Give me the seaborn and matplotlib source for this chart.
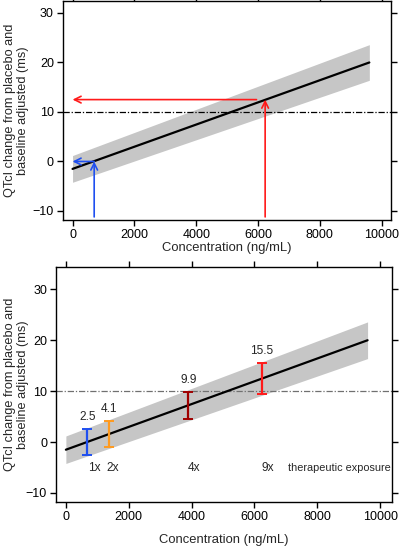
import matplotlib
matplotlib.use("Agg")
import matplotlib.pyplot as plt
import seaborn as sns
import pandas as pd

# ---- data ----
conc_line = [0, 9600]
qtc_line = [-1.5, 20.0]
ci_lower = [-4.2, 16.4]
ci_upper = [1.2, 23.6]

threshold = 10

# top panel arrows (concentration, QTc)
blue_conc, blue_qtc = 700, 0.0
red_conc, red_qtc = 6230, 12.5
red_hstart = 5950

# bottom panel error bars
eb_conc = [680, 1380, 3900, 6240]
eb_low = [-2.5, -1.0, 4.5, 9.5]
eb_high = [2.5, 4.1, 9.9, 15.5]
eb_labels = ["2.5", "4.1", "9.9", "15.5"]
eb_colors = ["#1f4ff0", "#ff9a1f", "#a00000", "#ff1a1a"]
mult_labels = ["1x", "2x", "4x", "9x"]
mult_conc = [900, 1480, 4080, 6440]
exposure_label = "therapeutic exposure"

xticks = [0, 2000, 4000, 6000, 8000, 10000]
yticks = [-10, 0, 10, 20, 30]
xlabel = "Concentration (ng/mL)"
ylabel = "QTcI change from placebo and\nbaseline adjusted (ms)"

sns.set_style("ticks")
plt.rcParams["font.family"] = ["Liberation Sans", "DejaVu Sans"]
plt.rcParams["font.size"] = 9

df = pd.DataFrame({"conc": conc_line, "qtc": qtc_line})

fig = plt.figure(figsize=(4.01, 5.47), dpi=100)
ax1 = fig.add_axes([0.157, 0.598, 0.818, 0.400])
ax2 = fig.add_axes([0.140, 0.082, 0.837, 0.430])


def base(ax, ylim, xlim, hcolor, xpad, ylab_x):
    ax.fill_between(conc_line, ci_lower, ci_upper, color="#c6c6c6", lw=0, zorder=1)
    sns.lineplot(data=df, x="conc", y="qtc", ax=ax, color="black", lw=1.6, zorder=3)
    ax.axhline(threshold, color=hcolor, lw=0.9, ls=(0, (5, 1.5, 1, 1.5)), zorder=2)
    ax.set_xlim(*xlim)
    ax.set_ylim(*ylim)
    ax.set_xticks(xticks)
    ax.set_yticks(yticks)
    ax.set_xlabel(xlabel, fontsize=9.4, labelpad=xpad)
    ax.set_ylabel(ylabel, fontsize=9.2, linespacing=1.05)
    ax.yaxis.set_label_coords(ylab_x, 0.5)
    for s in ax.spines.values():
        s.set_visible(True)
        s.set_linewidth(1.0)
        s.set_color("black")
    ax.tick_params(direction="out", length=4, width=1, top=True, right=True,
                   labeltop=False, labelright=False, labelsize=9, colors="black",
                   pad=2.5)


base(ax1, (-11.8, 32.4), (-310, 10300), "black", 1.0, -0.105)
base(ax2, (-11.8, 34.4), (-310, 10370), "#707070", 8.0, -0.082)

# top panel arrows
arr = dict(arrowstyle="->", lw=1.2, mutation_scale=12, shrinkA=0, shrinkB=0)
ax1.annotate("", xy=(blue_conc, blue_qtc), xytext=(blue_conc, -11.2),
             arrowprops=dict(arr, color="#1f4ff0"), zorder=4)
ax1.annotate("", xy=(0, blue_qtc), xytext=(blue_conc, blue_qtc),
             arrowprops=dict(arr, color="#1f4ff0"), zorder=4)
ax1.annotate("", xy=(red_conc, red_qtc), xytext=(red_conc, -11.2),
             arrowprops=dict(arr, color="#ff1a1a"), zorder=4)
ax1.annotate("", xy=(0, red_qtc), xytext=(red_hstart, red_qtc),
             arrowprops=dict(arr, color="#ff1a1a"), zorder=4)

# bottom panel error bars
for c, lo, hi, lab, col in zip(eb_conc, eb_low, eb_high, eb_labels, eb_colors):
    mid = (lo + hi) / 2
    ax2.errorbar([c], [mid], yerr=[[mid - lo], [hi - mid]], fmt="none",
                 ecolor=col, elinewidth=1.6, capsize=3.5, capthick=1.4, zorder=4)
    ax2.text(c, hi + 1.2, lab, ha="center", va="bottom", fontsize=8.6)

for c, lab in zip(mult_conc, mult_labels):
    ax2.text(c, -5.0, lab, ha="center", va="center", fontsize=8.6)
ax2.text(10330, -5.0, exposure_label, ha="right", va="center", fontsize=7.8)

fig.savefig("out.png", dpi=100)
